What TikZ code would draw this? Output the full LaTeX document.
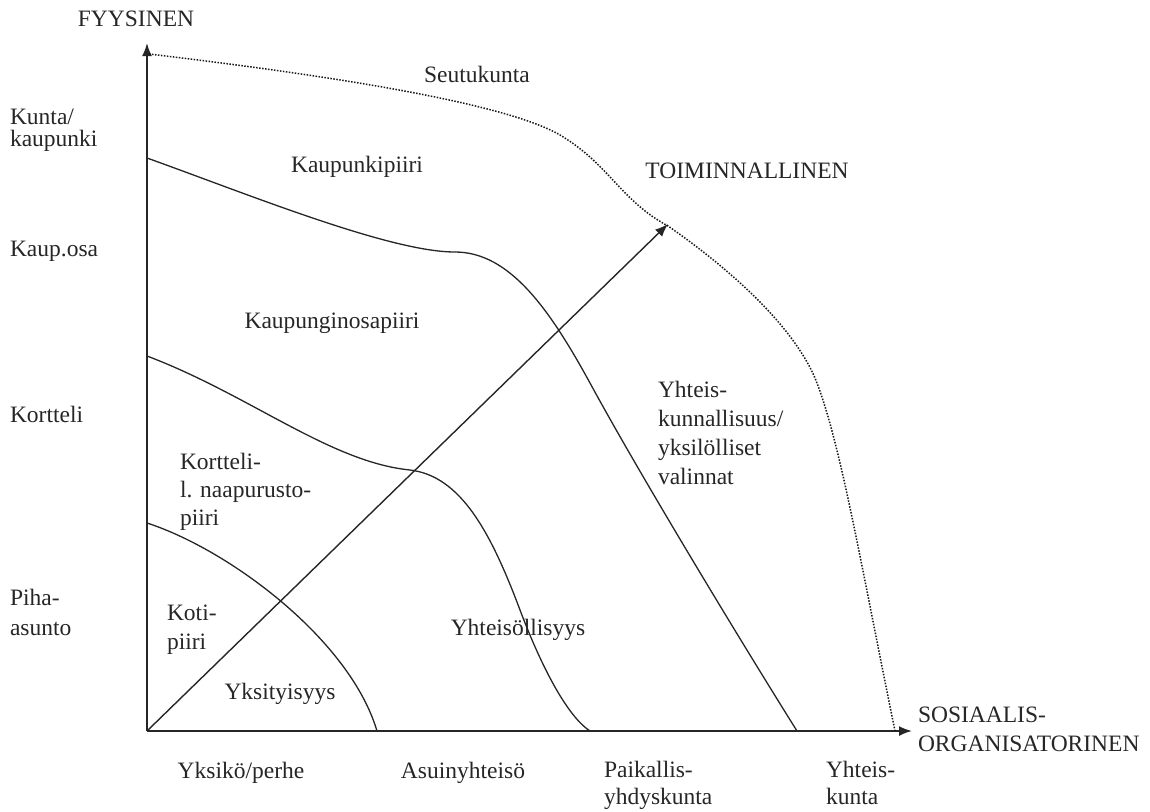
\documentclass[tikz,border=0pt]{standalone}
\usepackage{fontspec}
\setmainfont{Liberation Serif}
\usetikzlibrary{arrows.meta}
\begin{document}
\begin{tikzpicture}[x=1pt,y=-1pt,
  lbl/.style={inner sep=0pt, outer sep=0pt, font=\fontsize{23.5}{28.5}\selectfont, text=black!85, align=left, anchor=north west},
  clbl/.style={lbl, anchor=north, align=center},
  axisline/.style={line width=1.8pt, draw=black!85, -{Latex[length=13pt,width=10pt]}},
  bound/.style={line width=1.3pt, draw=black!85},
  dotb/.style={line width=1.5pt, draw=black!90, dash pattern=on 1.5pt off 1.5pt}]
\useasboundingbox (0,0) rectangle (1150,811);
% axes
\coordinate (O) at (147,731);
\coordinate (ytip) at (147,43);
\coordinate (xtip) at (912,731);
\coordinate (dtip) at (668,224);
\draw[axisline] (O) -- (ytip);
\draw[axisline] (O) -- (xtip);
\draw[axisline, line width=1.4pt] (O) -- (dtip);
% boundaries
\draw[bound] (147,523) .. controls (230,550) and (350,640) .. (377,731);
\draw[bound] (147,356) .. controls (250,395) and (330,462) .. (410,470)
  .. controls (460,476) and (490,530) .. (520,610)
  .. controls (545,676) and (570,718) .. (590,731);
\draw[bound] (147,158) .. controls (250,195) and (390,252) .. (455,252)
  .. controls (510,252) and (550,310) .. (590,383)
  .. controls (640,475) and (740,640) .. (797,731);
\draw[dotb] (149,54) .. controls (300,72) and (500,100) .. (560,135)
  .. controls (610,165) and (620,200) .. (668,226)
  .. controls (720,262) and (790,320) .. (815,378)
  .. controls (840,440) and (860,560) .. (895,731);
% labels
\node[clbl] (fyys) at (136,11) {FYYSINEN};
\node[clbl] (seutu) at (477,66) {Seutukunta};
\node[lbl, font=\fontsize{23.5}{22}\selectfont] (kunta) at (10,109) {Kunta/\\kaupunki};
\node[clbl] (kpiiri) at (357,156) {Kaupunkipiiri};
\node[clbl] (toim) at (747,163) {TOIMINNALLINEN};
\node[lbl] (kaupos) at (10,241) {Kaup.osa};
\node[clbl] (kopiiri) at (332,313) {Kaupunginosapiiri};
\node[lbl, font=\fontsize{23.5}{29}\selectfont] (yhtk) at (658,381) {Yhteis-\\kunnallisuus/\\yksilölliset\\valinnat};
\node[lbl] (kortteli) at (10,406) {Kortteli};
\node[lbl, font=\fontsize{23.5}{28}\selectfont] (knaap) at (180,453) {Kortteli-\\l. naapurusto-\\piiri};
\node[lbl, font=\fontsize{23.5}{30}\selectfont] (piha) at (10,589) {Piha-\\asunto};
\node[lbl, font=\fontsize{23.5}{29}\selectfont] (koti) at (167,605) {Koti-\\piiri};
\node[clbl] (yhts) at (518,619) {Yhteisöllisyys};
\node[clbl] (yksit) at (280,683) {Yksityisyys};
\node[clbl] (yksikko) at (241,762) {Yksikö/perhe};
\node[clbl] (asuin) at (463,762) {Asuinyhteisö};
\node[lbl, font=\fontsize{23.5}{27}\selectfont] (paik) at (604,761) {Paikallis-\\yhdyskunta};
\node[lbl, font=\fontsize{23.5}{27}\selectfont] (yhtkunta) at (826,761) {Yhteis-\\kunta};
\node[lbl, font=\fontsize{23.5}{29}\selectfont] (sos) at (918,707) {SOSIAALIS-\\ORGANISATORINEN};
\end{tikzpicture}
\end{document}
